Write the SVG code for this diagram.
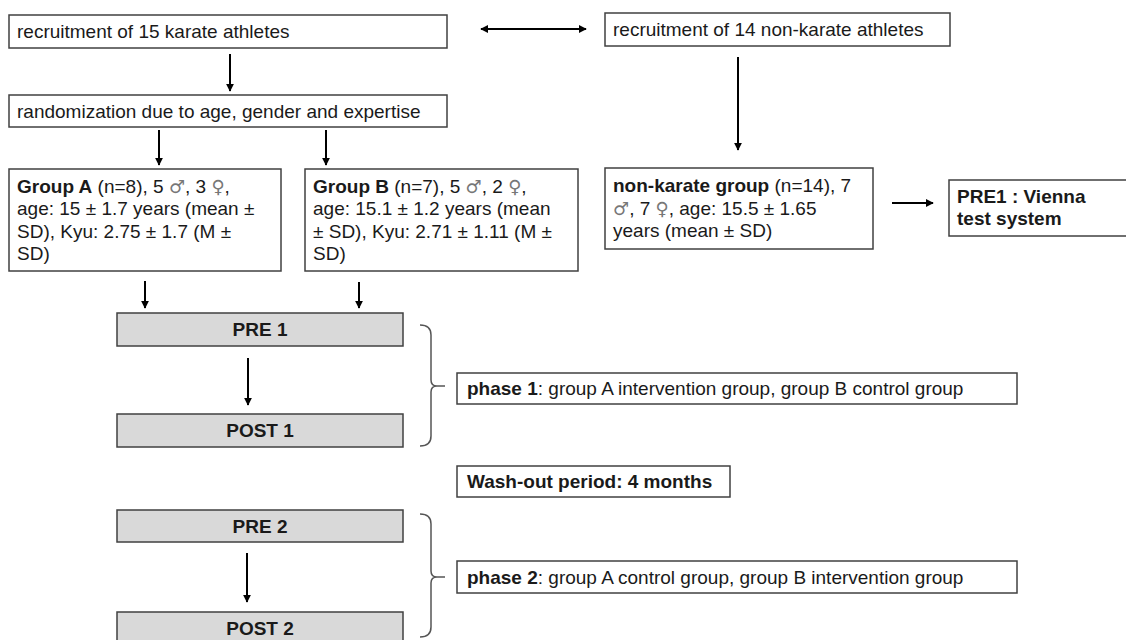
<svg xmlns="http://www.w3.org/2000/svg" width="1126" height="640" viewBox="0 0 1126 640">
<style>
.box{fill:#ffffff;stroke:#404040;stroke-width:1.5}
.gbox{fill:#d9d9d9;stroke:#404040;stroke-width:1.5}
.t{font-family:"Liberation Sans",Arial,sans-serif;font-size:19px;fill:#1a1a1a}
.b{font-weight:bold}
.sym{font-family:"DejaVu Sans",sans-serif;font-size:18px;fill:#777777}
.c{text-anchor:middle}
.arr{stroke:#000;stroke-width:2;fill:none;marker-end:url(#ah)}
.brace{stroke:#555;stroke-width:1.5;fill:none}
</style>
<defs>
<marker id="ah" viewBox="0 0 10 10" refX="9" refY="5" markerWidth="8" markerHeight="8" markerUnits="userSpaceOnUse" orient="auto">
<path d="M0,0 L10,5 L0,10 z" fill="#000"/>
</marker>
<marker id="ahs" viewBox="0 0 10 10" refX="1" refY="5" markerWidth="8" markerHeight="8" markerUnits="userSpaceOnUse" orient="auto">
<path d="M10,0 L0,5 L10,10 z" fill="#000"/>
</marker>
</defs>
<rect width="1126" height="640" fill="#ffffff"/>

<g id="recruit-karate">
<rect class="box" x="9" y="15" width="438" height="33"/>
<text class="t" x="17" y="38">recruitment of 15 karate athletes</text>
</g>
<g id="recruit-nonkarate">
<rect class="box" x="605" y="13" width="345" height="33"/>
<text class="t" x="613" y="36">recruitment of 14 non-karate athletes</text>
</g>
<g id="randomization">
<rect class="box" x="9" y="95" width="438" height="32"/>
<text class="t" x="17" y="118">randomization due to age, gender and expertise</text>
</g>
<g id="groupA">
<rect class="box" x="9" y="169" width="272" height="102"/>
<text class="t" x="17" y="192.5"><tspan class="b">Group A</tspan> (n=8), 5 <tspan class="sym">♂</tspan>, 3 <tspan class="sym">♀</tspan>,</text>
<text class="t" x="17" y="215">age: 15 ± 1.7 years (mean ±</text>
<text class="t" x="17" y="237.5">SD), Kyu: 2.75 ± 1.7 (M ±</text>
<text class="t" x="17" y="260">SD)</text>
</g>
<g id="groupB">
<rect class="box" x="305" y="169" width="273" height="102"/>
<text class="t" x="313" y="192.5"><tspan class="b">Group B</tspan> (n=7), 5 <tspan class="sym">♂</tspan>, 2 <tspan class="sym">♀</tspan>,</text>
<text class="t" x="313" y="215">age: 15.1 ± 1.2 years (mean</text>
<text class="t" x="313" y="237.5">± SD), Kyu: 2.71 ± 1.11 (M ±</text>
<text class="t" x="313" y="260">SD)</text>
</g>
<g id="nonkarate">
<rect class="box" x="605" y="168" width="268" height="81"/>
<text class="t" x="613" y="192"><tspan class="b">non-karate group</tspan> (n=14), 7</text>
<text class="t" x="613" y="215"><tspan class="sym">♂</tspan>, 7 <tspan class="sym">♀</tspan>, age: 15.5 ± 1.65</text>
<text class="t" x="613" y="237">years (mean ± SD)</text>
</g>
<g id="vienna">
<rect class="box" x="949" y="180" width="190" height="56"/>
<text class="t b" x="957" y="203">PRE1 : Vienna</text>
<text class="t b" x="957" y="225">test system</text>
</g>
<g id="pre1">
<rect class="gbox" x="117" y="313" width="286" height="33"/>
<text class="t b c" x="260" y="336">PRE 1</text>
</g>
<g id="post1">
<rect class="gbox" x="117" y="414" width="286" height="33"/>
<text class="t b c" x="260" y="437">POST 1</text>
</g>
<g id="phase1">
<rect class="box" x="457" y="373" width="560" height="31"/>
<text class="t" x="467" y="395"><tspan class="b">phase 1</tspan>: group A intervention group, group B control group</text>
</g>
<g id="washout">
<rect class="box" x="457" y="466" width="273" height="31"/>
<text class="t b" x="467" y="488">Wash-out period: 4 months</text>
</g>
<g id="pre2">
<rect class="gbox" x="117" y="510" width="286" height="32"/>
<text class="t b c" x="260" y="533">PRE 2</text>
</g>
<g id="post2">
<rect class="gbox" x="117" y="612" width="286" height="33"/>
<text class="t b c" x="260" y="635">POST 2</text>
</g>
<g id="phase2">
<rect class="box" x="457" y="561" width="560" height="32"/>
<text class="t" x="467" y="584"><tspan class="b">phase 2</tspan>: group A control group, group B intervention group</text>
</g>

<g id="connectors">
<line class="arr" x1="481" y1="29" x2="586" y2="29" marker-start="url(#ahs)"/>
<line class="arr" x1="230" y1="54" x2="230" y2="91"/>
<line class="arr" x1="738" y1="57" x2="738" y2="150"/>
<line class="arr" x1="159" y1="130" x2="159" y2="165"/>
<line class="arr" x1="326" y1="130" x2="326" y2="165"/>
<line class="arr" x1="145" y1="281" x2="145" y2="308"/>
<line class="arr" x1="359" y1="282" x2="359" y2="308"/>
<line class="arr" x1="248" y1="358" x2="248" y2="405"/>
<line class="arr" x1="892" y1="203" x2="933" y2="203"/>
<line class="arr" x1="247" y1="553" x2="247" y2="602"/>
<path class="brace" d="M420,325 Q431,325 431,335 L431,380 Q431,386 437,386 L445,386 M437,386 Q431,386 431,392 L431,436 Q431,446 420,446"/>
<path class="brace" d="M420,514 Q431,514 431,524 L431,571 Q431,577 437,577 L445,577 M437,577 Q431,577 431,583 L431,627 Q431,637 420,637"/>
</g>
</svg>
